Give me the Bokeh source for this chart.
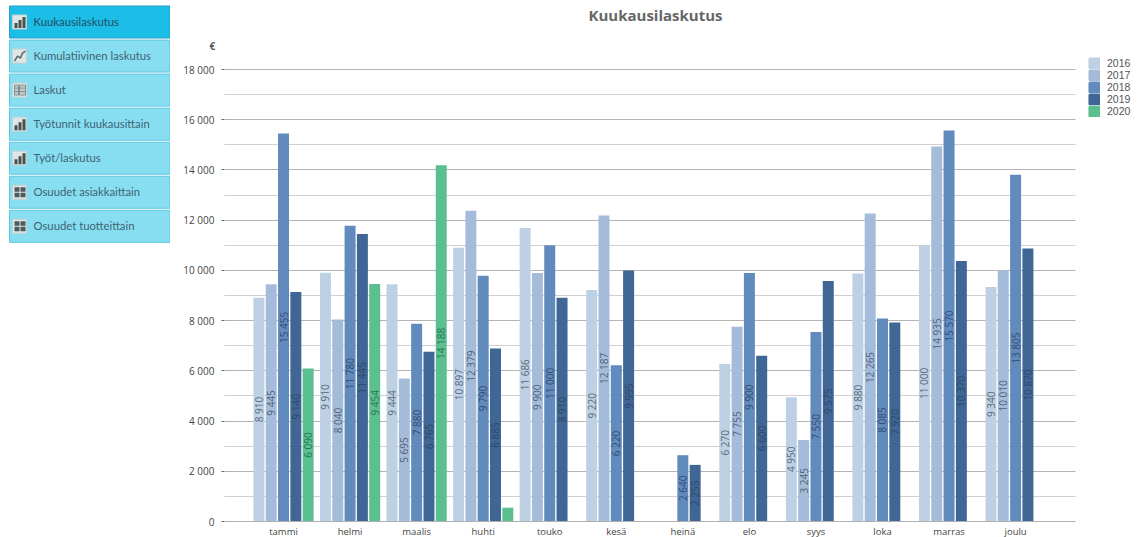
from bokeh.core.properties import value
from bokeh.embed import file_html
from bokeh.layouts import row
from bokeh.models import (ColumnDataSource, FixedTicker, Legend, LegendItem, Range1d,
                          SingleIntervalTicker, Title)
from bokeh.plotting import figure
from bokeh.resources import INLINE

# Monthly invoicing per year, euros
months = ["tammi", "helmi", "maalis", "huhti", "touko", "kesä",
          "heinä", "elo", "syys", "loka", "marras", "joulu"]
years = ["2016", "2017", "2018", "2019", "2020"]
sales_2016 = [8910, 9910, 9444, 10897, 11686, 9220, None, 6270, 4950, 9880, 11000, 9340]
sales_2017 = [9445, 8040, 5695, 12379, 9900, 12187, None, 7755, 3245, 12265, 14935, 10010]
sales_2018 = [15455, 11780, 7880, 9790, 11000, 6220, 2640, 9900, 7550, 8085, 15570, 13805]
sales_2019 = [9140, 11445, 6765, 6885, 8910, 9995, 2255, 6600, 9575, 7920, 10370, 10870]
sales_2020 = [6090, 9454, 14188, 550, None, None, None, None, None, None, None, None]
series = [sales_2016, sales_2017, sales_2018, sales_2019, sales_2020]

bar_colors = ["#bed1e4", "#a4bcd9", "#618abd", "#3f6694", "#5bbf8f"]
label_colors = ["#4b5a6c", "#44546a", "#2d4466", "#2c4464", "#1f6b49"]
y_ticks = list(range(0, 20000, 2000))
y_tick_labels = {t: f"{t:,}".replace(",", " ") for t in y_ticks}

menu_items = ["Kuukausilaskutus", "Kumulatiivinen laskutus", "Laskut",
              "Työtunnit kuukausittain", "Työt/laskutus",
              "Osuudet asiakkaittain", "Osuudet tuotteittain"]
menu_icons = ["bars", "line", "table", "bars", "bars", "grid", "grid"]

UI_FONT = "Lato"
CHART_FONT = "Open Sans"

# --- navigation column, drawn in pixel coordinates with y pointing down ---
side = figure(width=170, height=537, x_range=Range1d(0, 170), y_range=Range1d(537, 0),
              output_backend="svg", toolbar_location=None, min_border=0,
              outline_line_color=None, x_axis_location=None, y_axis_location=None)
side.frame_align = False
side.grid.visible = False

for i, (item, icon) in enumerate(zip(menu_items, menu_icons)):
    top = 5.5 + i * 34.05
    bottom = top + 32
    active = i == 0
    side.quad(left=9, right=169.5, top=top, bottom=bottom,
              fill_color="#1cbde6" if active else "#87def1",
              line_color="#2a9fc4" if active else "#5cc6e0", line_width=1)
    side.quad(left=12, right=26, top=top + 9, bottom=top + 23,
              fill_color="#dfe6e6", line_color="#c4d2d4", line_width=1)
    mid = top + 16
    if icon == "bars":
        side.quad(left=[14, 18, 22], right=[17, 21, 25],
                  top=[mid + 1, mid - 2, mid - 5], bottom=[mid + 6] * 3,
                  fill_color="#47524f", line_color=None)
    elif icon == "line":
        side.line(x=[14, 17, 20, 22, 25],
                  y=[mid + 5, mid, mid + 2, mid - 3, mid - 5],
                  line_color="#5c6a6c", line_width=1.6)
    elif icon == "table":
        side.quad(left=[14, 19], right=[18, 25], top=[mid - 5, mid - 5],
                  bottom=[mid + 5, mid + 5],
                  fill_color="#c3cccd", line_color="#75827f", line_width=0.8)
        side.segment(x0=[14, 14], x1=[25, 25], y0=[mid - 2, mid + 1.5],
                     y1=[mid - 2, mid + 1.5], line_color="#75827f", line_width=0.8)
    else:
        side.quad(left=[14, 20, 14, 20], right=[19, 25, 19, 25],
                  top=[mid - 5, mid - 5, mid + 0.5, mid + 0.5],
                  bottom=[mid - 0.5, mid - 0.5, mid + 5, mid + 5],
                  fill_color="#4e5a5c", line_color=None)
    side.text(x=[33], y=[mid - 0.5], text=[item], text_font=value(UI_FONT),
              text_font_size="11.3px", text_baseline="middle",
              text_color="#3f6373" if not active else "#1f4f5f")

# --- chart ---
# the y range runs one pixel past 18 000 so the top gridline stays inside the frame
p = figure(frame_width=851, frame_height=453, height=537,
           x_range=Range1d(-0.887, 11.9), y_range=Range1d(0, 18040),
           output_backend="svg", toolbar_location=None,
           min_border_left=54, min_border_right=0, min_border_top=68, min_border_bottom=16,
           outline_line_color=None)
p.frame_align = False

# the unit sits nearest the frame, the chart title stacks above it
p.add_layout(Title(text="€", align="left", offset=-15, standoff=32,
                   text_font=CHART_FONT, text_font_size="10px", text_font_style="bold",
                   text_color="#555555"), "above")
p.add_layout(Title(text="Kuukausilaskutus", align="left", offset=364, standoff=-8,
                   text_font=CHART_FONT, text_font_size="15px", text_font_style="bold",
                   text_color="#666666"), "above")

p.xaxis.ticker = FixedTicker(ticks=list(range(len(months))))
p.xaxis.major_label_overrides = dict(enumerate(months))
p.xaxis.major_tick_line_color = None
p.xaxis.minor_tick_line_color = None
p.xaxis.major_tick_out = 0
p.xaxis.major_tick_in = 0
p.xaxis.minor_tick_out = 0
p.xaxis.axis_line_color = "#b0b0b0"
p.xaxis.major_label_standoff = 3
p.xaxis.major_label_text_font = CHART_FONT
p.xaxis.major_label_text_font_size = "9.5px"
p.xaxis.major_label_text_color = "#444444"

p.yaxis.ticker = SingleIntervalTicker(interval=2000, num_minor_ticks=2)
p.yaxis.major_label_overrides = y_tick_labels
p.yaxis.axis_line_color = None
p.yaxis.minor_tick_line_color = None
p.yaxis.major_tick_out = 3
p.yaxis.major_tick_in = 0
p.yaxis.major_tick_line_color = "#666666"
p.yaxis.major_label_standoff = 6
p.yaxis.major_label_text_font = CHART_FONT
p.yaxis.major_label_text_font_size = "10px"
p.yaxis.major_label_text_color = "#444444"

p.xgrid.visible = False
p.ygrid.grid_line_color = "#b4b4b4"
p.ygrid.minor_grid_line_color = "#a0a0a0"
p.ygrid.minor_grid_line_dash = "1 1"

# five slots per month, left to right by year
SLOT = 0.185
BAR_WIDTH = 0.165
NAN = float("nan")
legend_items = []
for s, (year, vals) in enumerate(zip(years, series)):
    xs = [m + (s - 2) * SLOT for m, v in enumerate(vals) if v is not None]
    ys = [v for v in vals if v is not None]
    src = ColumnDataSource(dict(x=xs, top=ys))
    p.vbar(x="x", top="top", bottom=0, width=BAR_WIDTH, source=src,
           fill_color=bar_colors[s], line_color=None)
    # legend swatch: an undrawn point whose thick outline closes the gaps between rows
    swatch = p.vbar(x=[NAN], top=[NAN], bottom=0, width=BAR_WIDTH, fill_color=bar_colors[s],
                    line_color=bar_colors[s], line_width=2.5)
    legend_items.append(LegendItem(label=year, renderers=[swatch]))
    # the small April 2020 bar carries no value label
    shown = [i for i, v in enumerate(ys) if v >= 1000]
    p.text(x=[xs[i] for i in shown], y=[ys[i] / 2 for i in shown],
           text=[f"{ys[i]:,}".replace(",", " ") for i in shown], angle=1.5708,
           text_align="center", text_baseline="middle",
           text_font=value(CHART_FONT), text_font_size="10px",
           text_color=label_colors[s], text_alpha=0.9)

legend = Legend(items=legend_items, location=(13, 404), orientation="vertical",
                margin=0, padding=0, spacing=0, glyph_width=12, glyph_height=12,
                label_height=12, label_standoff=7, label_text_font="Liberation Sans",
                label_text_font_size="10.5px", label_text_color="#555555",
                background_fill_alpha=0, border_line_color=None)
p.add_layout(legend, "right")

layout = row(side, p, spacing=0)
open("out.html", "w").write(file_html(layout, INLINE))
